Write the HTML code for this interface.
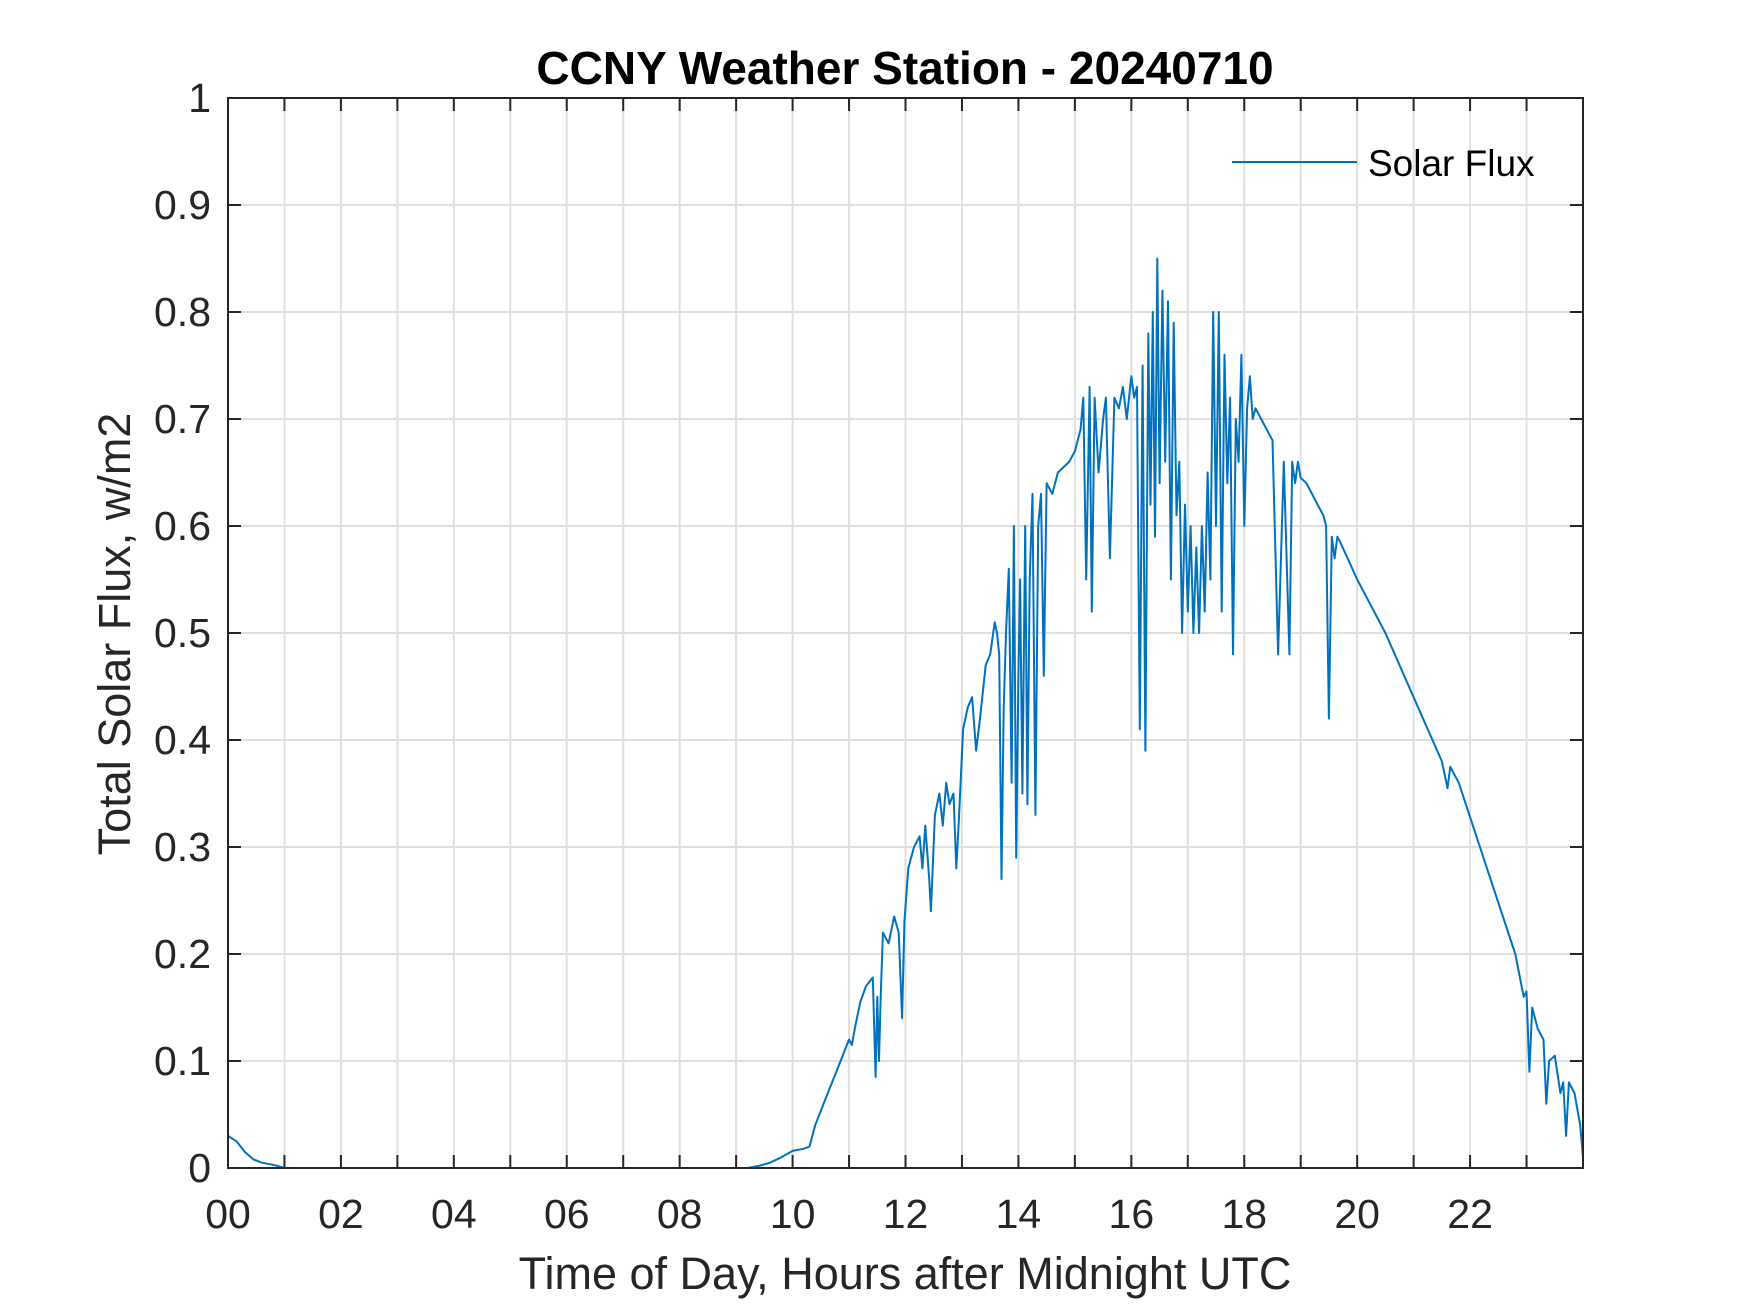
<!DOCTYPE html>
<html><head><meta charset="utf-8"><style>
html,body{margin:0;padding:0;background:#fff;}
svg{display:block;font-family:"Liberation Sans",Arial,sans-serif;}
</style></head><body>
<svg id="chart" width="1750" height="1313" viewBox="0 0 1750 1313">
<rect x="0" y="0" width="1750" height="1313" fill="#fff"/>
<g id="grid"></g>
<g id="series"></g>
<rect x="228" y="98" width="1355" height="1070" fill="none" stroke="#262626" stroke-width="2"/>
<g id="ticks"></g>
<text x="905" y="84" text-anchor="middle" font-size="46" font-weight="bold" fill="#000">CCNY Weather Station - 20240710</text>
<text x="905" y="1289" text-anchor="middle" font-size="45" fill="#262626">Time of Day, Hours after Midnight UTC</text>
<text transform="translate(130,634) rotate(-90)" text-anchor="middle" font-size="45" fill="#262626">Total Solar Flux, w/m2</text>
<g>
<line x1="1232" y1="162" x2="1357" y2="162" stroke="#0072BD" stroke-width="2"/>
<text x="1368" y="176" font-size="37" fill="#000">Solar Flux</text>
</g>
</svg>
<script>
const xTicks = [0,2,4,6,8,10,12,14,16,18,20,22];
const xTickLabels = ["00","02","04","06","08","10","12","14","16","18","20","22"];
const yTicks = [0,0.1,0.2,0.3,0.4,0.5,0.6,0.7,0.8,0.9,1];
const yTickLabels = ["0","0.1","0.2","0.3","0.4","0.5","0.6","0.7","0.8","0.9","1"];
const hours = [
0,0.15,0.3,0.45,0.6,0.8,1.0,9.2,9.4,9.6,
9.8,10.0,10.2,10.3,10.4,10.55,10.7,10.85,11.0,11.05,
11.1,11.2,11.3,11.42,11.47,11.5,11.53,11.56,11.6,11.7,
11.8,11.88,11.94,11.98,12.05,12.15,12.25,12.3,12.35,12.42,
12.45,12.52,12.6,12.66,12.72,12.78,12.85,12.9,12.95,13.02,
13.1,13.18,13.25,13.32,13.42,13.5,13.58,13.62,13.66,13.7,
13.74,13.78,13.83,13.88,13.92,13.96,14.0,14.03,14.07,14.12,
14.16,14.2,14.25,14.3,14.35,14.4,14.45,14.5,14.6,14.7,
14.8,14.9,15.0,15.1,15.15,15.2,15.26,15.3,15.35,15.42,
15.5,15.55,15.62,15.7,15.78,15.85,15.92,16.0,16.05,16.1,
16.15,16.2,16.25,16.3,16.34,16.38,16.42,16.46,16.5,16.55,
16.6,16.65,16.7,16.75,16.8,16.85,16.9,16.95,17.0,17.05,
17.1,17.15,17.2,17.25,17.3,17.35,17.4,17.45,17.5,17.55,
17.6,17.65,17.7,17.75,17.8,17.85,17.9,17.95,18.0,18.05,
18.1,18.15,18.2,18.3,18.4,18.5,18.6,18.7,18.8,18.85,
18.9,18.95,19.0,19.1,19.2,19.3,19.4,19.45,19.5,19.55,
19.6,19.65,19.7,20.0,20.5,21.0,21.5,21.6,21.65,21.8,
22.3,22.8,22.95,23.0,23.05,23.1,23.2,23.3,23.35,23.4,
23.5,23.6,23.65,23.7,23.75,23.85,23.95,24.0];
const flux = [
0.03,0.025,0.015,0.008,0.005,0.003,0,0,0.002,0.005,
0.01,0.016,0.018,0.02,0.04,0.06,0.08,0.1,0.12,0.115,
0.13,0.155,0.17,0.178,0.085,0.16,0.1,0.16,0.22,0.21,
0.235,0.22,0.14,0.23,0.28,0.3,0.31,0.28,0.32,0.27,
0.24,0.33,0.35,0.32,0.36,0.34,0.35,0.28,0.33,0.41,
0.43,0.44,0.39,0.42,0.47,0.48,0.51,0.5,0.48,0.27,
0.43,0.5,0.56,0.36,0.6,0.29,0.46,0.55,0.35,0.6,
0.34,0.55,0.63,0.33,0.6,0.63,0.46,0.64,0.63,0.65,
0.655,0.66,0.67,0.69,0.72,0.55,0.73,0.52,0.72,0.65,
0.7,0.72,0.57,0.72,0.71,0.73,0.7,0.74,0.72,0.73,
0.41,0.75,0.39,0.78,0.62,0.8,0.59,0.85,0.64,0.82,
0.66,0.81,0.55,0.79,0.61,0.66,0.5,0.62,0.52,0.6,
0.5,0.58,0.5,0.6,0.52,0.65,0.55,0.8,0.6,0.8,
0.52,0.76,0.64,0.72,0.48,0.7,0.66,0.76,0.6,0.71,
0.74,0.7,0.71,0.7,0.69,0.68,0.48,0.66,0.48,0.66,
0.64,0.66,0.645,0.64,0.63,0.62,0.61,0.6,0.42,0.59,
0.57,0.59,0.585,0.55,0.5,0.44,0.38,0.355,0.375,0.36,
0.28,0.2,0.16,0.165,0.09,0.15,0.13,0.12,0.06,0.1,
0.105,0.07,0.08,0.03,0.08,0.07,0.04,0.01];

const NS = "http://www.w3.org/2000/svg";
const X0 = 228, X1 = 1583, Y0 = 1168, Y1 = 98;
function xs(h){ return X0 + (h/24)*(X1-X0); }
function ys(v){ return Y0 - v*(Y0-Y1); }
function mk(tag, attrs, parent){ const e=document.createElementNS(NS,tag); for(const k in attrs) e.setAttribute(k,attrs[k]); parent.appendChild(e); return e; }

const grid=document.getElementById('grid'), ticks=document.getElementById('ticks'), series=document.getElementById('series');
for(let h=1; h<24; h++){
  const g = mk('line',{x1:xs(h),x2:xs(h),y1:Y1,y2:Y0,stroke:'#dfdfdf','stroke-width':2},grid);
  
  
  [[Y0,Y0-13],[Y1,Y1+13]].forEach(p=>{
    const t = mk('line',{x1:xs(h),x2:xs(h),y1:p[0],y2:p[1],stroke:'#262626','stroke-width':2},ticks);
    
    
  });
}
xTicks.forEach((h,i)=>{
  const t = mk('text',{x:xs(h),y:1228,'text-anchor':'middle','font-size':41,fill:'#262626'},ticks);
  t.textContent = xTickLabels[i];
  
  
});
yTicks.forEach((v,i)=>{
  if(v>0 && v<1){
    const g = mk('line',{x1:X0,x2:X1,y1:ys(v),y2:ys(v),stroke:'#dfdfdf','stroke-width':2},grid);
    
    
    [[X0,X0+13],[X1,X1-13]].forEach(p=>{
      const t = mk('line',{x1:p[0],x2:p[1],y1:ys(v),y2:ys(v),stroke:'#262626','stroke-width':2},ticks);
      
      
    });
  }
  const t = mk('text',{x:211,y:ys(v)+14,'text-anchor':'end','font-size':41,fill:'#262626'},ticks);
  t.textContent = yTickLabels[i];
  
  
});
const pts = hours.map((h,i)=>xs(h).toFixed(1)+','+ys(flux[i]).toFixed(1)).join(' ');
const line = mk('polyline',{points:pts,fill:'none',stroke:'#0072BD','stroke-width':2,'stroke-linejoin':'round'},series);


</script>
</body></html>
